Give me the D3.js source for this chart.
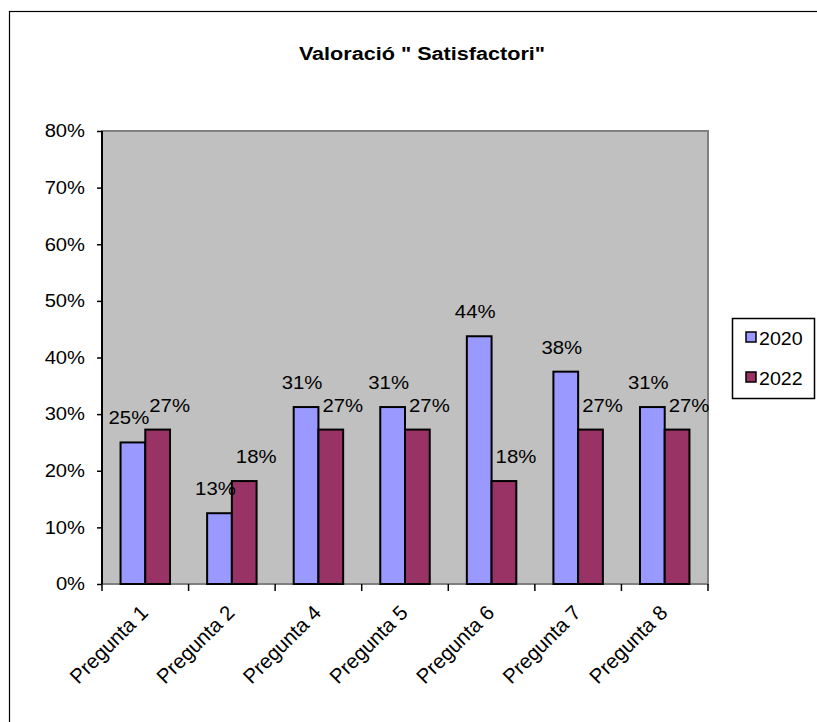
<!DOCTYPE html>
<html>
<head>
<meta charset="utf-8">
<script src="https://cdn.jsdelivr.net/npm/d3@7"></script>
<style>
  html, body { margin: 0; padding: 0; background: #fff; }
  svg { display: block; font-family: Arial, "Liberation Sans", sans-serif; }
</style>
</head>
<body>
<svg id="chart" width="817" height="722"></svg>
<script>
// Chart data
const chartTitle = 'Valoració " Satisfactori"';
const categories = ["Pregunta 1", "Pregunta 2", "Pregunta 4", "Pregunta 5", "Pregunta 6", "Pregunta 7", "Pregunta 8"];
const seriesNames = ["2020", "2022"];
const values2020 = [0.25, 0.125, 0.3125, 0.3125, 0.4375, 0.375, 0.3125];
const values2022 = [0.2727, 0.1818, 0.2727, 0.2727, 0.1818, 0.2727, 0.2727];
const yTicks = [0, 0.1, 0.2, 0.3, 0.4, 0.5, 0.6, 0.7, 0.8];

const colors = ["#9999FF", "#993366"];
const seriesValues = [values2020, values2022];

const svg = d3.select("#chart");
const pct = d3.format(".0%");

// Horizontally widen text glyphs by a factor
function widen(sel, k) {
  sel.each(function () {
    const w = this.getComputedTextLength();
    this.setAttribute("textLength", (w * k).toFixed(2));
    this.setAttribute("lengthAdjust", "spacingAndGlyphs");
  });
}

// Outer chart frame (runs past the right and bottom edges)
svg.append("rect")
  .attr("x", 9.5).attr("y", 11.5)
  .attr("width", 900).attr("height", 800)
  .attr("fill", "#fff").attr("stroke", "#000").attr("stroke-width", 1.2);

// Title
svg.append("text")
  .attr("x", 422).attr("y", 60)
  .attr("text-anchor", "middle")
  .attr("font-size", 18).attr("font-weight", "bold")
  .text(chartTitle)
  .call(widen, 1.2);

// Plot area
const plot = { left: 102, right: 708, top: 131, bottom: 584 };

const x = d3.scaleBand().domain(categories).range([plot.left, plot.right]).padding(0);
const inner = d3.scaleBand().domain(seriesNames)
  .range([0, x.bandwidth()]).paddingInner(0).paddingOuter(0.75);
const y = d3.scaleLinear().domain([0, 0.8]).range([plot.bottom, plot.top]);

svg.append("rect")
  .attr("x", plot.left).attr("y", plot.top)
  .attr("width", plot.right - plot.left).attr("height", plot.bottom - plot.top)
  .attr("fill", "#C0C0C0").attr("stroke", "#808080").attr("stroke-width", 2);

// Bars
const groups = svg.append("g").selectAll("g")
  .data(seriesNames)
  .join("g")
  .attr("fill", (d, i) => colors[i]);

groups.each(function (name, si) {
  d3.select(this).selectAll("rect")
    .data(categories.map((c, ci) => ({ c, v: seriesValues[si][ci] })))
    .join("rect")
    .attr("x", d => x(d.c) + inner(name))
    .attr("y", d => y(d.v))
    .attr("width", inner.bandwidth())
    .attr("height", d => y(0) - y(d.v))
    .attr("stroke", "#000").attr("stroke-width", 2);
});

// Y axis
const yAxis = svg.append("g")
  .attr("transform", `translate(${plot.left},0)`)
  .call(d3.axisLeft(y).tickValues(yTicks).tickFormat(pct).tickSize(5).tickPadding(12));
yAxis.select(".domain").attr("stroke", "#000").attr("stroke-width", 2).attr("d", `M0,${plot.top}V${plot.bottom}`);
yAxis.selectAll(".tick line").attr("stroke", "#000").attr("stroke-width", 1.5);
yAxis.selectAll(".tick text")
  .attr("font-size", 18).attr("fill", "#000")
  .attr("font-family", "Arial, 'Liberation Sans', sans-serif")
  .call(widen, 1.12);

// X axis: ticks at category boundaries
const xBounds = categories.map(c => x(c)).concat([plot.right]);
svg.append("g").selectAll("line")
  .data(xBounds)
  .join("line")
  .attr("x1", d => d).attr("x2", d => d)
  .attr("y1", plot.bottom).attr("y2", plot.bottom + 7)
  .attr("stroke", "#000").attr("stroke-width", 1.5);

svg.append("g").selectAll("text")
  .data(categories)
  .join("text")
  .attr("transform", d => `translate(${x(d) + x.bandwidth() / 2 + 4},${plot.bottom + 30}) rotate(-45)`)
  .attr("text-anchor", "end")
  .attr("font-size", 20.5)
  .text(d => d);

// Data labels
const labelShift = [-4, 12];
seriesNames.forEach((name, si) => {
  svg.append("g").selectAll("text")
    .data(categories.map((c, ci) => ({ c, v: seriesValues[si][ci] })))
    .join("text")
    .attr("x", d => x(d.c) + inner(name) + inner.bandwidth() / 2 + labelShift[si])
    .attr("y", d => y(d.v) - 18)
    .attr("text-anchor", "middle")
    .attr("font-size", 18.5)
    .attr("fill", "#000")
    .text(d => pct(d.v))
    .call(widen, 1.1);
});

// Legend
const legend = svg.append("g");
legend.append("rect")
  .attr("x", 732.5).attr("y", 318.5).attr("width", 82).attr("height", 80)
  .attr("fill", "#fff").attr("stroke", "#000").attr("stroke-width", 1.5);
const items = legend.selectAll("g.item")
  .data(seriesNames)
  .join("g").attr("class", "item")
  .attr("transform", (d, i) => `translate(746,${332 + i * 40})`);
items.append("rect")
  .attr("width", 10).attr("height", 10)
  .attr("fill", (d, i) => colors[i]).attr("stroke", "#000").attr("stroke-width", 1.5);
items.append("text")
  .attr("x", 13).attr("y", 13)
  .attr("font-size", 18)
  .text(d => d)
  .call(widen, 1.09);
</script>
</body>
</html>
